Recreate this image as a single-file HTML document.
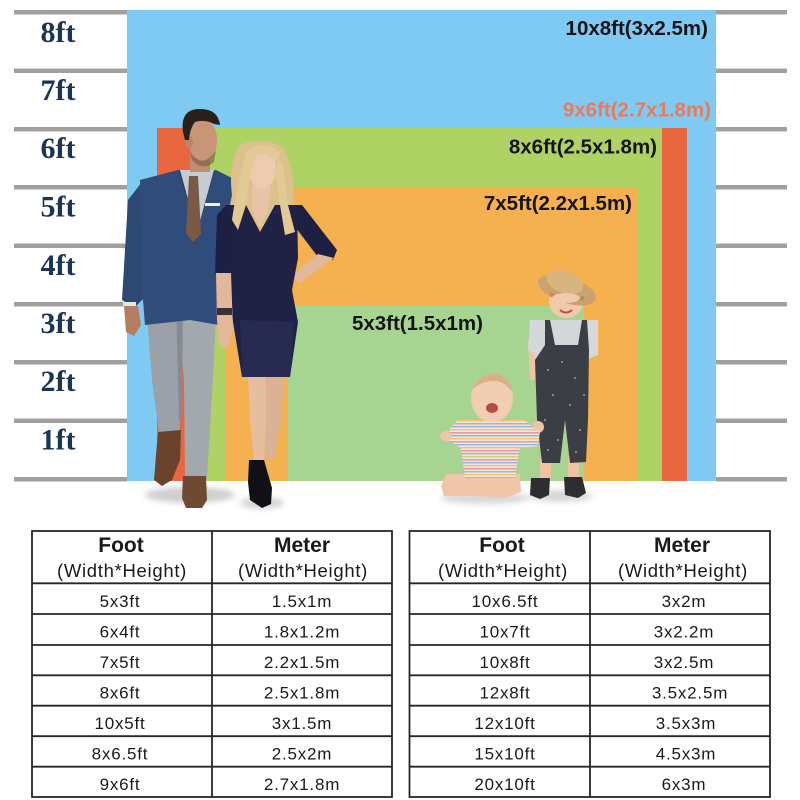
<!DOCTYPE html>
<html><head><meta charset="utf-8"><style>
html,body{margin:0;padding:0;background:#fff;}
svg{display:block;}
</style></head><body>
<svg width="800" height="800" viewBox="0 0 800 800" xmlns="http://www.w3.org/2000/svg">
<defs>
<pattern id="stripes" width="10" height="9" patternUnits="userSpaceOnUse">
<rect width="10" height="9" fill="#eee6de"/>
<rect y="0" width="10" height="1.6" fill="#e79aa6"/>
<rect y="3" width="10" height="1.4" fill="#8fb8d8"/>
<rect y="6" width="10" height="1.4" fill="#e8c86a"/>
</pattern>
<filter id="blur" x="-20%" y="-50%" width="140%" height="200%"><feGaussianBlur stdDeviation="3"/></filter>
</defs>

<!-- backdrops -->
<rect x="127" y="10" width="589" height="471" fill="#7ecaf2"/>
<rect x="157" y="128" width="530" height="353" fill="#e8673f"/>
<rect x="200" y="128" width="462" height="353" fill="#aed263"/>
<rect x="225" y="187" width="412" height="294" fill="#f5b04f"/>
<rect x="288" y="306" width="296" height="175" fill="#a8d491"/>

<!-- gray ruler lines -->
<g fill="#a0a0a0">
<rect x="14" y="10" width="113" height="4.5"/><rect x="716" y="10" width="71" height="4.5"/>
<rect x="14" y="68.5" width="113" height="4.5"/><rect x="716" y="68.5" width="71" height="4.5"/>
<rect x="14" y="127" width="113" height="4.5"/><rect x="716" y="127" width="71" height="4.5"/>
<rect x="14" y="185" width="113" height="4.5"/><rect x="716" y="185" width="71" height="4.5"/>
<rect x="14" y="243.5" width="113" height="4.5"/><rect x="716" y="243.5" width="71" height="4.5"/>
<rect x="14" y="302" width="113" height="4.5"/><rect x="716" y="302" width="71" height="4.5"/>
<rect x="14" y="360" width="113" height="4.5"/><rect x="716" y="360" width="71" height="4.5"/>
<rect x="14" y="418.5" width="113" height="4.5"/><rect x="716" y="418.5" width="71" height="4.5"/>
<rect x="14" y="477" width="113" height="4.5"/><rect x="716" y="477" width="71" height="4.5"/>
</g>

<!-- ft labels -->
<g font-family="'Liberation Serif', serif" font-weight="bold" font-size="30" fill="#1b3554" text-anchor="middle">
<text x="58" y="42">8ft</text>
<text x="58" y="100">7ft</text>
<text x="58" y="158">6ft</text>
<text x="58" y="216.5">5ft</text>
<text x="58" y="275">4ft</text>
<text x="58" y="333">3ft</text>
<text x="58" y="391">2ft</text>
<text x="58" y="449.5">1ft</text>
</g>

<!-- size labels -->
<g font-family="'Liberation Sans', sans-serif" font-weight="bold" font-size="20.5" text-anchor="end" fill="#141414">
<text x="708" y="35">10x8ft(3x2.5m)</text>
<text x="711" y="116.5" fill="#ea7a5a">9x6ft(2.7x1.8m)</text>
<text x="657" y="153.5">8x6ft(2.5x1.8m)</text>
<text x="632" y="210">7x5ft(2.2x1.5m)</text>
<text x="483" y="330">5x3ft(1.5x1m)</text>
</g>

<!-- shadows -->
<ellipse cx="190" cy="495" rx="45" ry="8" fill="#cfcfcf" filter="url(#blur)"/>
<ellipse cx="262" cy="503" rx="22" ry="6" fill="#d5d5d5" filter="url(#blur)"/>
<ellipse cx="485" cy="498" rx="45" ry="6" fill="#d8d8d8" filter="url(#blur)"/>
<ellipse cx="560" cy="496" rx="32" ry="6" fill="#d8d8d8" filter="url(#blur)"/>

<!-- MAN -->
<g>
<!-- trousers -->
<path d="M145 290 L183 290 L180 350 L180 438 L160 440 L152 380 Z" fill="#9ba1a8"/>
<path d="M176 290 L217 290 L214 360 L207 478 L185 478 L184 380 Z" fill="#a3a8ae"/>
<path d="M176 300 L183 300 L182 420 L179 420 Z" fill="#868b91"/>
<!-- shoes -->
<path d="M158 432 L181 430 L180 460 L172 480 L162 486 L154 480 L156 455 Z" fill="#6a432d"/>
<path d="M183 476 L206 476 L207 500 L202 508 L186 508 L182 498 Z" fill="#6e4a33"/>
<!-- left arm sleeve -->
<path d="M142 182 L128 200 L122 300 L134 308 L144 298 L152 215 Z" fill="#2d4872"/>
<rect x="123" y="302" width="13" height="4" fill="#e4e4e4"/>
<path d="M124 306 L138 306 L141 325 L134 336 L126 332 Z" fill="#b57e60"/>
<!-- jacket -->
<path d="M140 180 L178 170 L197 235 L216 170 L236 180 L240 215 L226 265 L219 325 L190 320 L145 325 L143 300 L141 240 Z" fill="#304c7b"/>
<path d="M178 170 L190 172 L197 235 Z M216 170 L204 172 L197 235 Z" fill="#263f66"/>
<!-- shirt -->
<path d="M180 170 L214 170 L197 232 Z" fill="#c7cbd3"/>
<!-- tie -->
<path d="M189 176 L198 176 L201 234 L193 242 L186 233 Z" fill="#7b5a45"/>
<!-- pocket square -->
<rect x="205" y="203" width="15" height="3" fill="#f2f2f2"/>
<!-- neck/face -->
<rect x="190" y="150" width="20" height="22" fill="#c18c70"/>
<ellipse cx="203" cy="140" rx="14" ry="21" fill="#c99579"/>
<ellipse cx="189" cy="142" rx="4" ry="6" fill="#bb8468"/>
<path d="M190 152 Q203 170 216 150 L214 162 Q203 172 192 160 Z" fill="#7a5a48" opacity="0.6"/>
<!-- hair -->
<path d="M183 132 Q180 110 198 109 Q218 108 220 125 L214 124 Q205 119 195 122 Q190 128 189 140 L185 140 Z" fill="#2a201a"/>
</g>

<!-- WOMAN -->
<g>
<!-- hair back -->
<path d="M240 145 Q262 135 284 148 Q296 175 293 200 Q298 225 290 238 L278 230 L250 225 L235 238 Q226 218 232 195 Q228 165 240 145 Z" fill="#dcc08d"/>
<!-- legs -->
<path d="M248 376 L268 376 L266 420 L264 462 L254 462 L250 420 Z" fill="#e6bda0"/>
<path d="M266 376 L284 376 L281 420 L274 460 L266 460 L266 420 Z" fill="#dab295"/>
<!-- shoes -->
<path d="M249 460 L264 460 L272 488 L271 504 L262 508 L250 500 L248 482 Z" fill="#111115"/>
<!-- right-side arm -->
<path d="M288 205 L302 205 L337 250 L333 260 L318 257 L296 228 Z" fill="#1d2043"/>
<path d="M318 254 L334 258 L300 283 L290 276 Z" fill="#e3b89a"/>
<!-- dress -->
<path d="M226 205 L246 205 L260 232 L275 205 L297 205 L298 258 L292 290 L298 322 L290 377 L242 377 L233 322 L230 290 L226 258 Z" fill="#1f2245"/>
<path d="M240 320 L294 322 L290 377 L242 377 Z" fill="#272b52"/>
<!-- left-side arm -->
<path d="M226 205 L217 215 L215 273 L231 273 L233 222 Z" fill="#1d2043"/>
<path d="M216 273 L231 273 L233 330 L228 348 L219 345 L217 320 Z" fill="#e3b89a"/>
<rect x="217" y="308" width="15" height="7" fill="#3a3030"/>
<!-- neck & face -->
<path d="M252 185 L271 185 L268 210 L260 228 L252 210 Z" fill="#e8c3a6"/>
<ellipse cx="262" cy="169" rx="14" ry="19" fill="#eecbb0"/>
<!-- hair front -->
<path d="M246 152 Q262 138 280 152 L276 162 Q268 150 256 156 L250 175 L246 205 L238 230 L232 220 Q236 190 246 152 Z" fill="#e3c995"/>
<path d="M278 155 L284 170 L288 205 L295 232 L285 235 L280 205 L276 175 Z" fill="#e3c995"/>
</g>

<!-- TODDLER -->
<g>
<!-- legs -->
<rect x="540" y="458" width="11" height="22" fill="#efc3a3"/>
<rect x="568" y="456" width="11" height="22" fill="#efc3a3"/>
<!-- sandals -->
<path d="M531 478 L550 478 L549 495 L540 499 L530 495 Z" fill="#2e2e30"/>
<path d="M564 477 L582 477 L586 493 L578 498 L565 495 Z" fill="#2e2e30"/>
<!-- arm left -->
<path d="M528 340 L540 340 L542 380 L530 380 Z" fill="#efc3a3"/>
<!-- shirt -->
<path d="M530 320 L598 320 L598 355 L586 360 L540 360 L528 350 Z" fill="#d6d7d9"/>
<!-- overalls -->
<path d="M545 320 L550 320 L555 345 L578 345 L582 320 L587 320 L589 350 L588 420 L586 462 L570 463 L565 420 L560 463 L542 463 L537 420 L535 360 L545 345 Z" fill="#3b3e44"/>
<g fill="#9a9ca2"><circle cx="548" cy="370" r="1"/><circle cx="562" cy="362" r="1"/><circle cx="575" cy="378" r="1"/><circle cx="553" cy="395" r="1"/><circle cx="570" cy="405" r="1"/><circle cx="545" cy="420" r="1"/><circle cx="580" cy="430" r="1"/><circle cx="558" cy="440" r="1"/><circle cx="576" cy="452" r="1"/><circle cx="548" cy="450" r="1"/><circle cx="584" cy="395" r="1"/></g>
<!-- hand held -->
<ellipse cx="538" cy="427" rx="6" ry="6" fill="#efc3a3"/>
<!-- face -->
<ellipse cx="566" cy="302" rx="17" ry="16" fill="#f1c9aa"/>
<path d="M560 310 Q566 315 572 310" stroke="#b0564a" stroke-width="2" fill="none"/>
<!-- hat -->
<ellipse cx="567" cy="290" rx="30" ry="13" fill="#c9a26d" transform="rotate(18 567 290)"/>
<ellipse cx="565" cy="282" rx="19" ry="11" fill="#d8b47e" transform="rotate(18 565 282)"/>
<path d="M550 292 Q566 300 584 296 L584 300 Q566 303 550 296 Z" fill="#c68a5a"/>
<ellipse cx="566" cy="298" rx="14" ry="5" fill="#f1c9aa"/>
</g>

<!-- BABY -->
<g>
<!-- legs -->
<path d="M446 474 L520 474 L521 492 L505 498 L475 496 L444 496 L441 486 Z" fill="#efc6aa"/>
<!-- body -->
<path d="M458 420 L524 420 L540 432 L538 446 L520 448 L515 478 L465 478 L461 448 L448 440 L450 428 Z" fill="url(#stripes)"/>
<ellipse cx="446" cy="436" rx="6" ry="5" fill="#efc6aa"/>
<!-- head -->
<ellipse cx="492" cy="398" rx="21" ry="24" fill="#f1cdb3"/>
<path d="M472 390 Q480 372 496 374 Q510 376 512 392 Q504 380 492 381 Q480 382 472 390 Z" fill="#d8b08a"/>
<ellipse cx="492" cy="408" rx="6" ry="5" fill="#b84a48"/>
</g>

<!-- TABLES -->
<g stroke="#262626" stroke-width="1.8" fill="none">
<rect x="32" y="531" width="360" height="266"/>
<line x1="212" y1="531" x2="212" y2="797"/>
<line x1="32" y1="583.3" x2="392" y2="583.3"/>
<line x1="32" y1="614" x2="392" y2="614"/>
<line x1="32" y1="645" x2="392" y2="645"/>
<line x1="32" y1="675.3" x2="392" y2="675.3"/>
<line x1="32" y1="705.7" x2="392" y2="705.7"/>
<line x1="32" y1="736.2" x2="392" y2="736.2"/>
<line x1="32" y1="766.7" x2="392" y2="766.7"/>

<rect x="409.5" y="531" width="360.5" height="266"/>
<line x1="590" y1="531" x2="590" y2="797"/>
<line x1="409.5" y1="583.3" x2="770" y2="583.3"/>
<line x1="409.5" y1="614" x2="770" y2="614"/>
<line x1="409.5" y1="645" x2="770" y2="645"/>
<line x1="409.5" y1="675.3" x2="770" y2="675.3"/>
<line x1="409.5" y1="705.7" x2="770" y2="705.7"/>
<line x1="409.5" y1="736.2" x2="770" y2="736.2"/>
<line x1="409.5" y1="766.7" x2="770" y2="766.7"/>
</g>

<g font-family="'Liberation Sans', sans-serif" fill="#1a1a1a" text-anchor="middle">
<g font-weight="bold" font-size="21">
<text x="121" y="552">Foot</text>
<text x="302" y="552">Meter</text>
<text x="502" y="552">Foot</text>
<text x="682" y="552">Meter</text>
</g>
<g font-size="18.5" letter-spacing="0.7">
<text x="122" y="577">(Width*Height)</text>
<text x="303" y="577">(Width*Height)</text>
<text x="503" y="577">(Width*Height)</text>
<text x="683" y="577">(Width*Height)</text>
</g>
<g font-size="17" letter-spacing="0.8">
<text x="120" y="607">5x3ft</text>
<text x="302" y="607">1.5x1m</text>
<text x="120" y="637.5">6x4ft</text>
<text x="302" y="637.5">1.8x1.2m</text>
<text x="120" y="668">7x5ft</text>
<text x="302" y="668">2.2x1.5m</text>
<text x="120" y="698.5">8x6ft</text>
<text x="302" y="698.5">2.5x1.8m</text>
<text x="120" y="729">10x5ft</text>
<text x="302" y="729">3x1.5m</text>
<text x="120" y="759.5">8x6.5ft</text>
<text x="302" y="759.5">2.5x2m</text>
<text x="120" y="790">9x6ft</text>
<text x="302" y="790">2.7x1.8m</text>

<text x="505" y="607">10x6.5ft</text>
<text x="684" y="607">3x2m</text>
<text x="505" y="637.5">10x7ft</text>
<text x="684" y="637.5">3x2.2m</text>
<text x="505" y="668">10x8ft</text>
<text x="684" y="668">3x2.5m</text>
<text x="505" y="698.5">12x8ft</text>
<text x="690" y="698.5">3.5x2.5m</text>
<text x="505" y="729">12x10ft</text>
<text x="686" y="729">3.5x3m</text>
<text x="505" y="759.5">15x10ft</text>
<text x="686" y="759.5">4.5x3m</text>
<text x="505" y="790">20x10ft</text>
<text x="684" y="790">6x3m</text>
</g>
</g>
</svg>
</body></html>
